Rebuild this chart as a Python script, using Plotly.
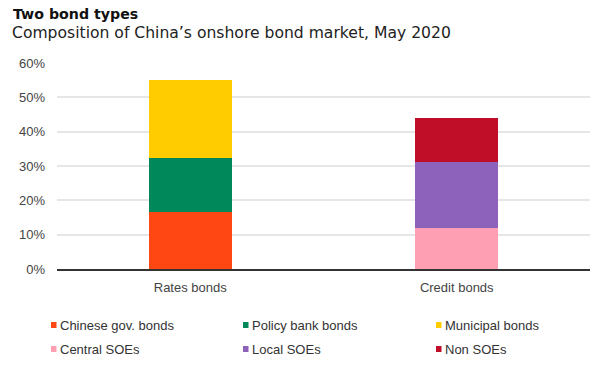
import plotly.graph_objects as go

categories = ["Rates bonds", "Credit bonds"]
series_names = ["Chinese gov. bonds", "Policy bank bonds", "Municipal bonds",
                "Central SOEs", "Local SOEs", "Non SOEs"]
rates_values = [16.7, 15.7, 22.7, None, None, None]
credit_values = [None, None, None, 12.0, 19.1, 12.8]
colors = ["#FF4713", "#00875A", "#FFCC00", "#FF9FB4", "#8C62BA", "#C00D28"]
y_ticks = [0, 10, 20, 30, 40, 50, 60]
y_tick_labels = ["0%", "10%", "20%", "30%", "40%", "50%", "60%"]

W, H = 600, 373
L, R, T, B = 57, 10, 63, 104
PW, PH = W - L - R, H - T - B


def px_x(px):
    return (px - L) / PW


def px_y(py):
    return (H - B - py) / PH


fig = go.Figure()
for i, name in enumerate(series_names):
    fig.add_trace(go.Bar(
        x=categories, y=[rates_values[i], credit_values[i]], name=name,
        marker=dict(color=colors[i], line=dict(width=0)), showlegend=False,
    ))

# manual legend: 3 columns x 2 rows
col_left = [51, 243, 436]
row_center = [325, 349]
shapes = []
annotations = []
for i, name in enumerate(series_names):
    cx = col_left[i % 3]
    cy = row_center[i // 3]
    shapes.append(dict(type="rect", xref="paper", yref="paper",
                       x0=px_x(cx), x1=px_x(cx + 5.5),
                       y0=px_y(cy + 3), y1=px_y(cy - 3),
                       fillcolor=colors[i], line=dict(width=0)))
    annotations.append(dict(text=name, xref="paper", yref="paper",
                            x=px_x(cx + 8), y=px_y(cy), xanchor="left",
                            yanchor="middle", showarrow=False, borderpad=0,
                            font=dict(family="Liberation Sans, Arial, sans-serif",
                                      size=13, color="#333")))

annotations += [
    dict(text="<b>Two bond types</b>", xref="paper", yref="paper",
         x=px_x(12), y=px_y(14), xanchor="left", yanchor="middle", showarrow=False,
         borderpad=0, font=dict(family="DejaVu Sans, sans-serif", size=14.2, color="#111")),
    dict(text="Composition of China\u2019s onshore bond market, May 2020",
         xref="paper", yref="paper", x=px_x(11), y=px_y(33), xanchor="left",
         yanchor="middle", showarrow=False, borderpad=0,
         font=dict(family="DejaVu Sans, sans-serif", size=15.6, color="#222")),
]

fig.update_layout(
    width=W, height=H,
    margin=dict(l=L, r=R, t=T, b=B),
    barmode="stack", bargap=0.69,
    showlegend=False,
    paper_bgcolor="white", plot_bgcolor="white",
    font=dict(family="Liberation Sans, Arial, sans-serif", size=13, color="#444"),
    xaxis=dict(showgrid=False, showline=True, linecolor="#333", linewidth=2,
               ticks="", automargin=False, ticklabelstandoff=5,
               tickfont=dict(size=13, color="#444")),
    yaxis=dict(range=[0, 60], tickvals=y_ticks, ticktext=y_tick_labels,
               showgrid=True, gridcolor="#e6e6e6", gridwidth=1.5,
               zeroline=False, ticks="", automargin=False, ticklabelstandoff=11,
               tickfont=dict(size=13, color="#444")),
    shapes=shapes,
    annotations=annotations,
)

fig.write_html("out.html", config={"displayModeBar": False},
               post_script="document.body.style.margin='0';document.body.style.padding='0';")
